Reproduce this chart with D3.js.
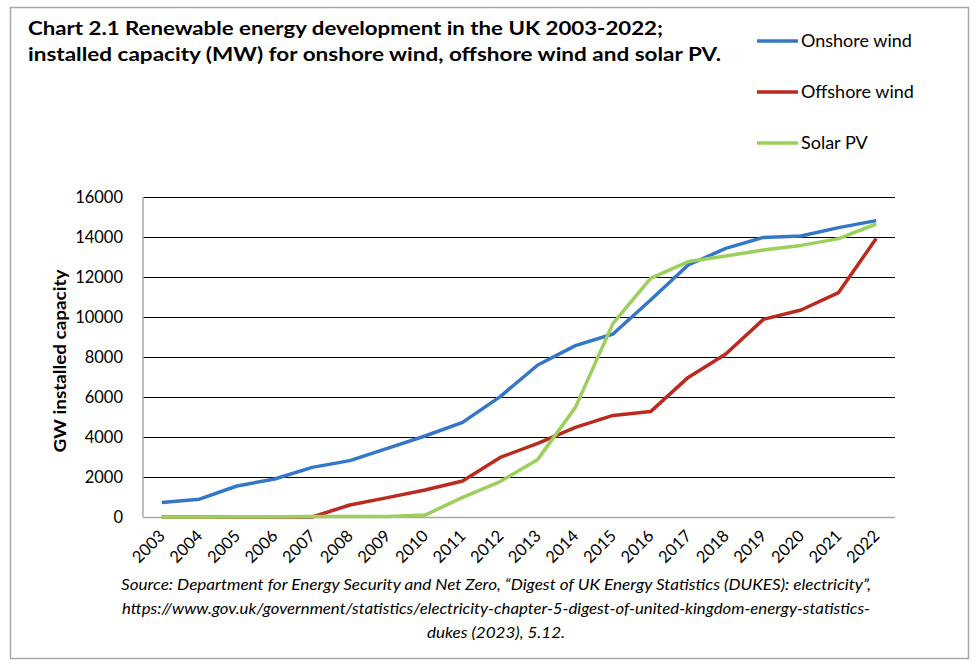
<!DOCTYPE html>
<html>
<head>
<meta charset="utf-8">
<script src="https://cdn.jsdelivr.net/npm/d3@7"></script>
<style>
  body { margin: 0; background: #fff; }
  svg { display: block; }
</style>
</head>
<body>
<svg id="chart"></svg>
<script>
// values (MW)
const years = ['2003', '2004', '2005', '2006', '2007', '2008', '2009', '2010', '2011', '2012',
  '2013', '2014', '2015', '2016', '2017', '2018', '2019', '2020', '2021', '2022'];
const onshore = [720, 890, 1550, 1900, 2480, 2820, 3430, 4050, 4730, 6020,
  7600, 8570, 9150, 10850, 12600, 13430, 13980, 14050, 14470, 14820];
const offshore = [0, 0, 0, 0, 0, 600, 970, 1350, 1800, 2980,
  3680, 4480, 5080, 5270, 6980, 8150, 9880, 10350, 11220, 13930];
const solar = [0, 0, 10, 10, 20, 20, 30, 95, 980, 1770,
  2880, 5480, 9680, 11930, 12770, 13050, 13350, 13580, 13920, 14650];
const seriesNames = ['Onshore wind', 'Offshore wind', 'Solar PV'];
const yTicks = [0, 2000, 4000, 6000, 8000, 10000, 12000, 14000, 16000];
const titleLines = ['Chart 2.1 Renewable energy development in the UK 2003-2022;',
  'installed capacity (MW) for onshore wind, offshore wind and solar PV.'];
const sourceLines = ['Source: Department for Energy Security and Net Zero, \u201cDigest of UK Energy Statistics (DUKES): electricity\u201d,',
  'https://www.gov.uk/government/statistics/electricity-chapter-5-digest-of-united-kingdom-energy-statistics-',
  'dukes (2023), 5.12.'];

const colors = ['#3477c6', '#bb2a1e', '#9ccf5b'];
const series = [onshore, offshore, solar];

const W = 980, H = 672;
const margin = {top: 197, right: 85, bottom: 155, left: 143};
const width = W - margin.left - margin.right,
  height = H - margin.top - margin.bottom;

const svg = d3.select('#chart')
  .attr('width', W)
  .attr('height', H)
  .style('font-family', 'Lato, "Open Sans", sans-serif');

// outer frame
svg.append('rect')
  .attr('x', 10.5).attr('y', 7.5)
  .attr('width', 958).attr('height', 651)
  .attr('fill', 'none')
  .attr('stroke', '#a8a8a8')
  .attr('stroke-width', 1.5);

svg.append('g')
  .selectAll('text')
  .data(titleLines).enter().append('text')
  .attr('x', 28)
  .attr('y', (d, i) => 35 + i * 26)
  .attr('font-weight', 'bold')
  .attr('font-size', 19)
  .attr('textLength', (d, i) => i ? 693 : 635)
  .attr('lengthAdjust', 'spacingAndGlyphs')
  .text(d => d);

const x = d3.scalePoint().domain(years).range([0, width]).padding(0.5);
const y = d3.scaleLinear().domain([0, 16000]).range([height, 0]);

const chart = svg.append('g')
  .attr('transform', `translate(${margin.left}, ${margin.top})`);

// gridlines + y labels
const yAxis = chart.append('g')
  .call(d3.axisLeft(y).tickValues(yTicks).tickSize(-width).tickPadding(20).tickFormat(d3.format('d')));
yAxis.select('.domain').remove();
yAxis.selectAll('.tick line')
  .attr('stroke', d => d === 0 ? '#a8a8a8' : '#000')
  .attr('stroke-width', d => d === 0 ? 1.5 : 1);
yAxis.selectAll('.tick text')
  .attr('font-size', 16.5)
  .attr('font-family', 'Lato, sans-serif')
  .attr('fill', '#000');

chart.append('line')
  .attr('x1', 0).attr('x2', 0)
  .attr('y1', 0).attr('y2', height)
  .attr('stroke', '#a8a8a8')
  .attr('stroke-width', 1.5);

// x labels, rotated
chart.append('g')
  .selectAll('text')
  .data(years).enter().append('text')
  .attr('transform', d => `translate(${x(d) + 4.2}, ${height + 20}) rotate(-45)`)
  .attr('text-anchor', 'end')
  .attr('font-size', 16.5)
  .text(d => d);

svg.append('text')
  .attr('transform', 'translate(66, 361) rotate(-90)')
  .attr('text-anchor', 'middle')
  .attr('font-weight', 'bold')
  .attr('font-size', 17)
  .attr('textLength', 183)
  .attr('lengthAdjust', 'spacingAndGlyphs')
  .text('GW installed capacity');

const line = d3.line()
  .x((d, i) => x(years[i]))
  .y(d => y(d));

// solar last so it sits on top of the zeros
chart.append('g')
  .selectAll('path')
  .data(series).enter().append('path')
  .attr('d', line)
  .attr('fill', 'none')
  .attr('stroke', (d, i) => colors[i])
  .attr('stroke-width', 3.5)
  .attr('stroke-linejoin', 'round');

// legend
const legend = svg.append('g')
  .selectAll('g')
  .data(seriesNames).enter().append('g')
  .attr('transform', (d, i) => `translate(757, ${41 + i * 51})`);

legend.append('line')
  .attr('x1', 0).attr('x2', 41)
  .attr('stroke', (d, i) => colors[i])
  .attr('stroke-width', 3.5);

legend.append('text')
  .attr('x', 44)
  .attr('y', 6)
  .attr('font-size', 18)
  .text(d => d);

// source note
svg.append('g')
  .selectAll('text')
  .data(sourceLines).enter().append('text')
  .attr('x', 496)
  .attr('y', (d, i) => 590 + i * 24)
  .attr('text-anchor', 'middle')
  .attr('font-style', 'italic')
  .attr('font-size', 15.5)
  .attr('textLength', (d, i) => [750, 748, 138][i])
  .attr('lengthAdjust', 'spacingAndGlyphs')
  .text(d => d);
</script>
</body>
</html>
